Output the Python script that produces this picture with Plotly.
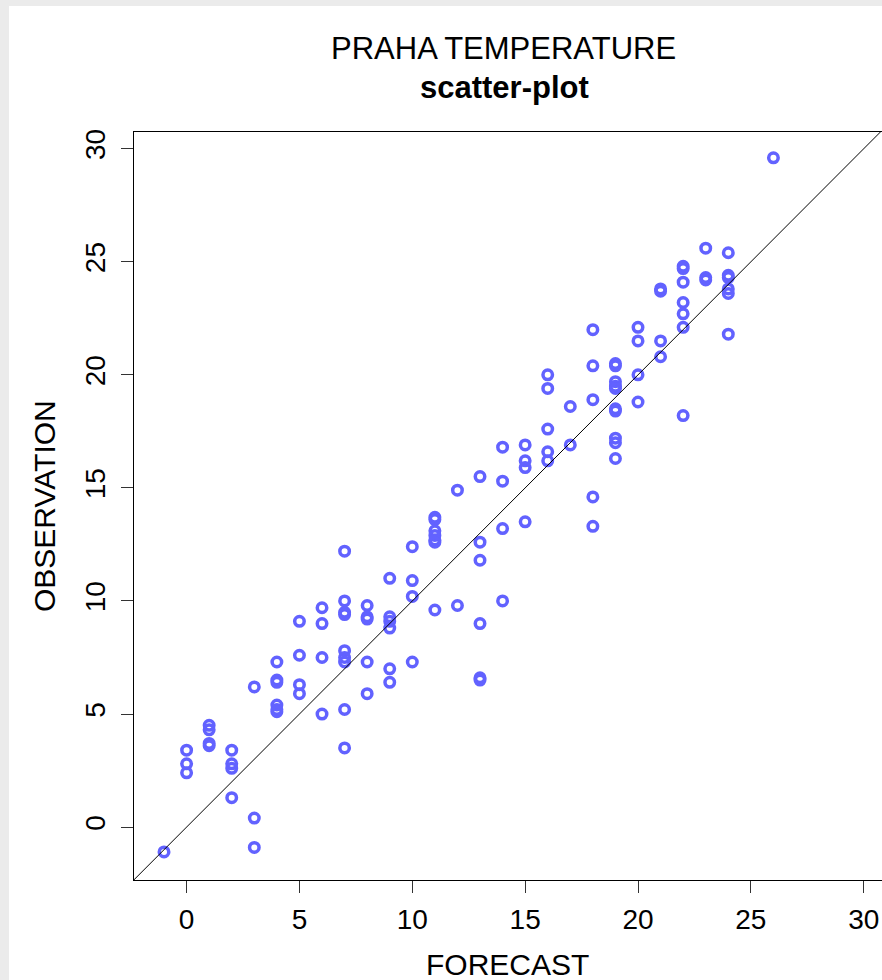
import plotly.graph_objects as go

# ---- data ----
forecast = [
    -1,
    0, 0, 0,
    1, 1, 1, 1,
    2, 2, 2, 2,
    3, 3, 3,
    4, 4, 4, 4, 4, 4,
    5, 5, 5, 5,
    6, 6, 6, 6,
    7, 7, 7, 7, 7, 7, 7, 7, 7,
    8, 8, 8, 8, 8,
    9, 9, 9, 9, 9, 9,
    10, 10, 10, 10,
    11, 11, 11, 11, 11, 11, 11,
    12, 12,
    13, 13, 13, 13, 13, 13,
    14, 14, 14, 14,
    15, 15, 15, 15,
    16, 16, 16, 16, 16,
    17, 17,
    18, 18, 18, 18, 18,
    19, 19, 19, 19, 19, 19, 19, 19, 19, 19,
    20, 20, 20, 20,
    21, 21, 21, 21,
    22, 22, 22, 22, 22, 22, 22,
    23, 23, 23,
    24, 24, 24, 24, 24, 24,
    26,
]
observation = [
    -1.1,
    3.4, 2.8, 2.4,
    4.5, 4.3, 3.7, 3.6,
    3.4, 2.8, 2.6, 1.3,
    6.2, 0.4, -0.9,
    7.3, 6.5, 6.4, 5.4, 5.2, 5.1,
    9.1, 7.6, 6.3, 5.9,
    9.7, 9.0, 7.5, 5.0,
    12.2, 10.0, 9.5, 9.4, 7.8, 7.5, 7.3, 5.2, 3.5,
    9.8, 9.3, 9.2, 7.3, 5.9,
    11.0, 9.3, 9.1, 8.8, 7.0, 6.4,
    12.4, 10.9, 10.2, 7.3,
    13.7, 13.6, 13.1, 12.9, 12.7, 12.6, 9.6,
    14.9, 9.8,
    15.5, 12.6, 11.8, 9.0, 6.6, 6.5,
    16.8, 15.3, 13.2, 10.0,
    16.9, 16.2, 15.9, 13.5,
    20.0, 19.4, 17.6, 16.6, 16.2,
    18.6, 16.9,
    22.0, 20.4, 18.9, 14.6, 13.3,
    20.5, 20.4, 19.7, 19.5, 19.4, 18.5, 18.4, 17.2, 17.0, 16.3,
    22.1, 21.5, 20.0, 18.8,
    23.8, 23.7, 21.5, 20.8,
    24.8, 24.7, 24.1, 23.2, 22.7, 22.1, 18.2,
    25.6, 24.3, 24.2,
    25.4, 24.4, 24.3, 23.8, 23.6, 21.8,
    29.6,
]
tick_values = [0, 5, 10, 15, 20, 25, 30]
tick_labels = ["0", "5", "10", "15", "20", "25", "30"]

title_main = "PRAHA TEMPERATURE"
title_sub = "scatter-plot"
x_title = "FORECAST"
y_title = "OBSERVATION"

# ---- layout geometry ----
W, H = 882, 980
L, R, T, B = 134, 0, 132, 100
PW = W - L - R
PH = H - T - B
X_RANGE = [-2.33, 30.81]
Y_RANGE = [-2.34, 30.74]
FONT = "Liberation Sans, Arial, Helvetica, sans-serif"


def px_x(px):
    return (px - L) / PW


def px_y(py):
    return (H - B - py) / PH


fig = go.Figure()
fig.add_trace(
    go.Scatter(
        x=forecast,
        y=observation,
        mode="markers",
        marker=dict(
            symbol="circle-open",
            size=9.5,
            color="#6262FF",
            line=dict(width=3.5, color="#6262FF"),
        ),
        hoverinfo="x+y",
        showlegend=False,
    )
)

lo = min(X_RANGE[0], Y_RANGE[0])
hi = max(X_RANGE[1], Y_RANGE[1])
fig.add_shape(
    type="line", xref="x", yref="y", x0=lo, y0=lo, x1=hi, y1=hi,
    line=dict(color="black", width=1), layer="above",
)
# white page area (the reference shows a grey strip on left / top)
fig.add_shape(
    type="rect", xref="paper", yref="paper",
    x0=px_x(9), x1=px_x(W + 5), y0=px_y(6), y1=px_y(H + 5),
    fillcolor="white", line=dict(width=0), layer="below",
)

axis_common = dict(
    tickvals=tick_values,
    ticktext=tick_labels,
    ticks="outside",
    ticklen=12,
    tickwidth=1,
    tickcolor="#333333",
    showline=True,
    linecolor="black",
    linewidth=1,
    mirror=True,
    showgrid=False,
    zeroline=False,
    automargin=False,
    tickfont=dict(family=FONT, size=28, color="black"),
)

fig.update_layout(
    width=W,
    height=H,
    margin=dict(l=L, r=R, t=T, b=B, pad=0),
    paper_bgcolor="#ebebeb",
    plot_bgcolor="white",
    font=dict(family=FONT, color="black"),
    xaxis=dict(range=X_RANGE, ticklabelstandoff=2, **axis_common),
    yaxis=dict(range=Y_RANGE, tickangle=-90, ticklabelstandoff=5, **axis_common),
    annotations=[
        dict(text=title_main, xref="paper", yref="paper", x=px_x(503), y=px_y(49),
             xanchor="center", yanchor="middle", showarrow=False,
             font=dict(family=FONT, size=31, color="black")),
        dict(text="<b>" + title_sub + "</b>", xref="paper", yref="paper", x=px_x(504), y=px_y(87),
             xanchor="center", yanchor="middle", showarrow=False,
             font=dict(family=FONT, size=31, color="black")),
        dict(text=x_title, xref="paper", yref="paper", x=px_x(507), y=px_y(964),
             xanchor="center", yanchor="middle", showarrow=False,
             font=dict(family=FONT, size=30, color="black")),
        dict(text=y_title, xref="paper", yref="paper", x=px_x(44), y=px_y(506),
             xanchor="center", yanchor="middle", showarrow=False, textangle=-90,
             font=dict(family=FONT, size=30, color="black")),
    ],
)

fig.write_html(
    "out.html",
    config={"displayModeBar": False},
    post_script="document.body.style.margin='0';document.body.style.background='#ebebeb';document.body.style.overflow='hidden';",
)
